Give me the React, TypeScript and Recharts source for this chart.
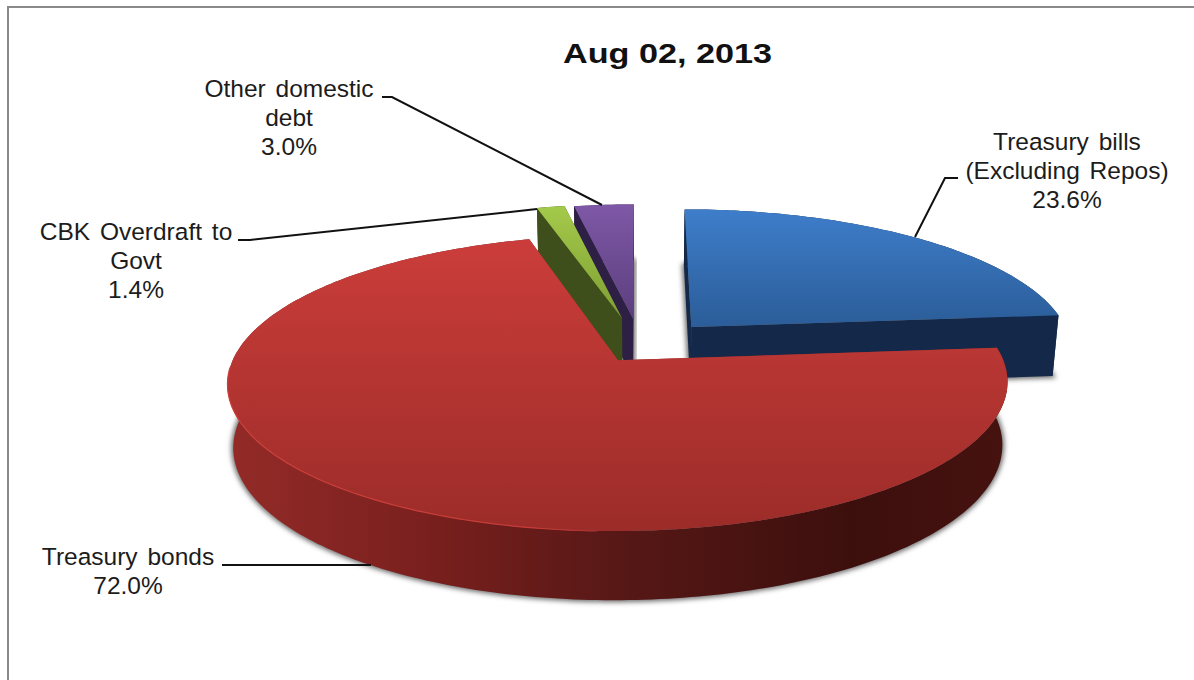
import { Pie, PieChart } from "recharts";

// listed in paint order, back slices first, so the large slice lands on top
const categories = [
  "Treasury bills (Excluding Repos)",
  "Other domestic debt",
  "CBK Overdraft to Govt",
  "Treasury bonds",
];
const shares = [23.6, 3.0, 1.4, 72.0];
const chartData = categories.map((name, i) => ({ name, value: shares[i] }));

const WIDTH = 1194;
const HEIGHT = 680;
const CENTER_X = 640;
const CENTER_Y = 340;
const RADIUS = 374;

// fake 3D: tilt squashes depth, perspective shrinks what sits further back
const TILT = 0.3667;
const PERSPECTIVE = 0.15;
const THICKNESS = 61.7;
const THICKNESS_FALLOFF = 0.6;
const BASE_SHRINK = 0.986;

type SliceStyle = {
  dx: number;
  dz: number;
  grow: number;
  top: string;
  side: string;
  wall: string;
  highlight?: string;
  lines: string[];
  lineX: number;
  lineY: number;
  leader: string;
};

const sliceStyles: Record<string, SliceStyle> = {
  "Treasury bills (Excluding Repos)": {
    dx: 52,
    dz: 36,
    grow: 1.015,
    top: "url(#topBlue)",
    side: "#14294a",
    wall: "#14294a",
    lines: ["Treasury bills", "(Excluding Repos)", "23.6%"],
    lineX: 1067,
    lineY: 150,
    leader: "M958 178 L945 178 L915 237",
  },
  "Other domestic debt": {
    dx: -7.2,
    dz: 60,
    grow: 1,
    top: "url(#topPurple)",
    side: "#2e1f44",
    wall: "#2e1f44",
    lines: ["Other domestic", "debt", "3.0%"],
    lineX: 289,
    lineY: 97,
    leader: "M382 97 L392 97 L602 205",
  },
  "CBK Overdraft to Govt": {
    dx: -18.4,
    dz: 61,
    grow: 1,
    top: "url(#topGreen)",
    side: "#3f4f1c",
    wall: "#3f4f1c",
    lines: ["CBK Overdraft to", "Govt", "1.4%"],
    lineX: 136,
    lineY: 240,
    leader: "M238 240 L250 240 L537 209",
  },
  "Treasury bonds": {
    dx: -21.5,
    dz: -54,
    grow: 1.008,
    top: "url(#topRed)",
    side: "url(#sideRed)",
    wall: "#8a2825",
    highlight: "url(#rimRed)",
    lines: ["Treasury bonds", "72.0%"],
    lineX: 128,
    lineY: 565,
    leader: "M222 565 L371 565",
  },
};

type Pt = [number, number];

function project(cx: number, cy: number, r: number, s: SliceStyle, deg: number, radius: number): Pt {
  // deg is the usual pie angle, counter-clockwise from east
  const a = (deg * Math.PI) / 180;
  const worldX = s.dx + radius * Math.cos(a);
  const worldZ = s.dz + radius * Math.sin(a);
  const scale = 1 + (PERSPECTIVE * worldZ) / r;
  return [cx + worldX / scale, cy - (TILT * worldZ) / scale];
}

function lower(cx: number, cy: number, r: number, s: SliceStyle, deg: number, radius: number): Pt {
  const a = (deg * Math.PI) / 180;
  const worldZ = s.dz + radius * Math.sin(a);
  const scale = 1 + (PERSPECTIVE * worldZ) / r;
  const [x, y] = project(cx, cy, r, s, deg, radius);
  return [cx + (x - cx) * BASE_SHRINK, y + THICKNESS * Math.pow(scale, -THICKNESS_FALLOFF)];
}

const toLine = (pts: Pt[]) =>
  "M" + pts.map(([x, y]) => `${x.toFixed(1)} ${y.toFixed(1)}`).join(" L");
const toPath = (pts: Pt[]) => toLine(pts) + " Z";

function Slice3D(props: any) {
  const { cx, cy, outerRadius, startAngle, endAngle, name } = props;
  const s = sliceStyles[name];
  if (!s) return null;
  const from = Math.min(startAngle, endAngle);
  const to = Math.max(startAngle, endAngle);
  const angles: number[] = [];
  for (let d = from; d < to; d += 1) angles.push(d);
  angles.push(to);

  const radius = outerRadius * s.grow;
  const topArc = angles.map((d) => project(cx, cy, outerRadius, s, d, radius));
  const lowArc = angles.map((d) => lower(cx, cy, outerRadius, s, d, radius));
  const apexTop = project(cx, cy, outerRadius, s, 0, 0);
  const apexLow = lower(cx, cy, outerRadius, s, 0, 0);

  const topFace = toPath([apexTop, ...topArc]);
  const baseFace = toPath([apexLow, ...lowArc]);
  const outerWall = toPath([...topArc, ...[...lowArc].reverse()]);
  const wallA = toPath([apexTop, topArc[0], lowArc[0], apexLow]);
  const wallB = toPath([apexTop, topArc[topArc.length - 1], lowArc[lowArc.length - 1], apexLow]);
  // thin light edge along the front left of the rim only
  const frontLeft = angles
    .filter((d) => d >= 182 && d <= 268)
    .map((d) => project(cx, cy, outerRadius, s, d, radius));

  return (
    <g>
      <path d={baseFace} fill="#6e6e6e" stroke="#6e6e6e" strokeWidth={4} filter="url(#softShadow)" />
      <path d={wallA} fill={s.wall} />
      <path d={wallB} fill={s.wall} />
      <path d={outerWall} fill={s.side} />
      <path d={topFace} fill={s.top} />
      {s.highlight && <path d={toLine(frontLeft)} fill="none" stroke={s.highlight} strokeWidth={1.2} />}
    </g>
  );
}

function SliceLabel(props: any) {
  const s = sliceStyles[props.name];
  if (!s) return null;
  return (
    <g>
      <path d={s.leader} fill="none" stroke="#111" strokeWidth={2} />
      <text
        x={s.lineX}
        y={s.lineY}
        textAnchor="middle"
        fontFamily="Liberation Sans"
        fontSize={24.5}
        fill="#1c1c1c"
        style={{ wordSpacing: 3 }}
      >
        {s.lines.map((line, i) => (
          <tspan key={line} x={s.lineX} dy={i === 0 ? 0 : 29}>
            {line}
          </tspan>
        ))}
      </text>
    </g>
  );
}

function Gradients() {
  return (
    <defs>
      <linearGradient id="topBlue" gradientUnits="userSpaceOnUse" x1="0" y1="211" x2="0" y2="330">
        <stop offset="0%" stopColor="#3e7dca" />
        <stop offset="100%" stopColor="#2a5c97" />
      </linearGradient>
      <linearGradient id="topPurple" gradientUnits="userSpaceOnUse" x1="0" y1="205" x2="0" y2="318">
        <stop offset="0%" stopColor="#7e58a6" />
        <stop offset="100%" stopColor="#5c3f7e" />
      </linearGradient>
      <linearGradient id="topGreen" gradientUnits="userSpaceOnUse" x1="0" y1="208" x2="0" y2="318">
        <stop offset="0%" stopColor="#a3c94a" />
        <stop offset="100%" stopColor="#7f9e33" />
      </linearGradient>
      <linearGradient id="topRed" gradientUnits="userSpaceOnUse" x1="0" y1="240" x2="0" y2="530">
        <stop offset="0%" stopColor="#cb3d3a" />
        <stop offset="100%" stopColor="#9c2c29" />
      </linearGradient>
      <linearGradient id="rimRed" gradientUnits="userSpaceOnUse" x1="228" y1="0" x2="620" y2="0">
        <stop offset="0%" stopColor="#cf3f3b" />
        <stop offset="80%" stopColor="#c63b37" />
        <stop offset="100%" stopColor="#a02d2a" />
      </linearGradient>
      <linearGradient id="sideRed" gradientUnits="userSpaceOnUse" x1="228" y1="0" x2="1008" y2="0">
        <stop offset="0%" stopColor="#932b28" />
        <stop offset="25%" stopColor="#7a201e" />
        <stop offset="50%" stopColor="#571816" />
        <stop offset="80%" stopColor="#3c0f0d" />
        <stop offset="100%" stopColor="#46120f" />
      </linearGradient>
      <filter id="softShadow" x="-5%" y="-5%" width="110%" height="110%">
        <feGaussianBlur stdDeviation="2.5" />
      </filter>
    </defs>
  );
}

export default function App() {
  // the pie runs counter-clockwise from the far edge of the first slice
  const startAngle = 90 - shares[0] * 3.6;
  return (
    <div style={{ position: "absolute", left: 0, top: 0, width: WIDTH, height: HEIGHT, background: "#fff" }}>
      <div
        style={{
          position: "absolute",
          left: 7,
          top: 6,
          right: 0,
          bottom: 0,
          borderLeft: "2px solid #8a8a8a",
          borderTop: "2px solid #8a8a8a",
        }}
      />
      <PieChart
        width={WIDTH}
        height={HEIGHT}
        margin={{ top: 0, right: 0, bottom: 0, left: 0 }}
        style={{ position: "absolute", left: 0, top: 0 }}
      >
        <Gradients />
        <text
          x={667.5}
          y={63}
          textAnchor="middle"
          fontFamily="Liberation Sans"
          fontSize={27.5}
          fontWeight="bold"
          fill="#111"
          textLength={209}
          lengthAdjust="spacingAndGlyphs"
        >
          Aug 02, 2013
        </text>
        <Pie
          data={chartData}
          dataKey="value"
          nameKey="name"
          cx={CENTER_X}
          cy={CENTER_Y}
          outerRadius={RADIUS}
          startAngle={startAngle}
          endAngle={startAngle + 360}
          paddingAngle={0}
          stroke="none"
          shape={Slice3D}
          label={SliceLabel}
          labelLine={false}
          isAnimationActive={false}
        />
      </PieChart>
    </div>
  );
}
